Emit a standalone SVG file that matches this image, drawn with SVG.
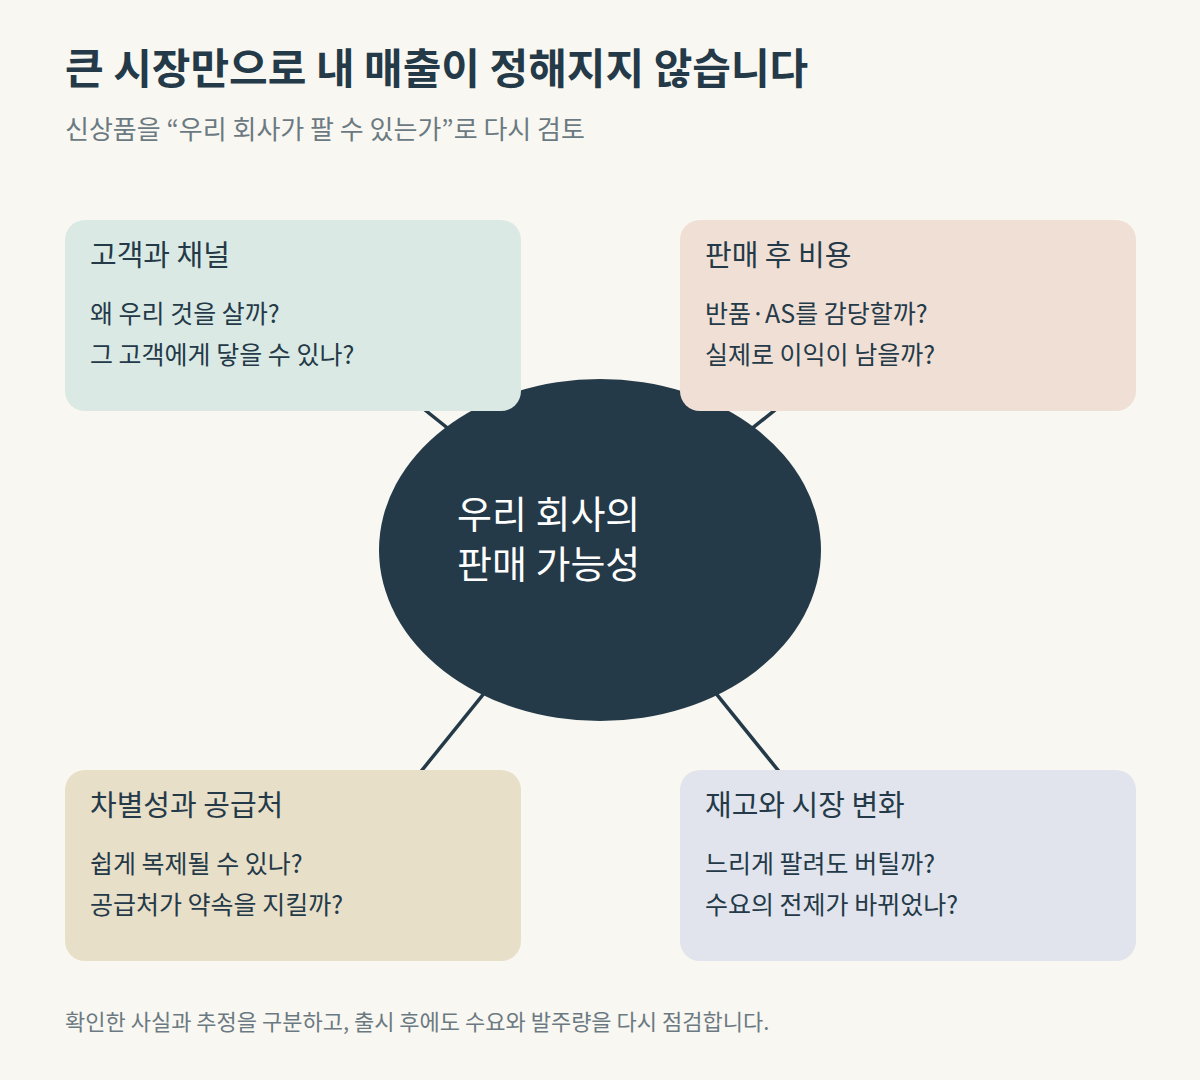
<svg xmlns="http://www.w3.org/2000/svg" width="1200" height="1080" viewBox="0 0 1200 1080">
<style>
text{font-family:"Noto Sans CJK KR","Noto Sans",sans-serif;fill:#243a48}
.h{font-size:29px}
.b{font-size:25px}
.c{stroke:#243a48;stroke-width:3.5}
</style>
<rect width="1200" height="1080" fill="#f9f7f1"/>
<text x="65" y="84" style="font-size:42px;font-weight:700">큰 시장만으로 내 매출이 정해지지 않습니다</text>
<text x="65" y="139" style="font-size:26px;fill:#6b7a82">신상품을 “우리 회사가 팔 수 있는가”로 다시 검토</text>
<g id="connectors">
<line class="c" x1="400" y1="390" x2="600" y2="550"/>
<line class="c" x1="800" y1="390" x2="600" y2="550"/>
<line class="c" x1="410" y1="785" x2="600" y2="550"/>
<line class="c" x1="790" y1="785" x2="600" y2="550"/>
</g>
<g id="center"><ellipse cx="600" cy="550" rx="221" ry="171" fill="#243a48"/>
<text x="457" y="528" style="font-size:38px;fill:#fff">우리 회사의</text>
<text x="457" y="578" style="font-size:38px;fill:#fff">판매 가능성</text></g>
<g id="n1"><rect x="65" y="220" width="456" height="191" rx="20" fill="#dbe9e4"/>
<text class="h" x="90" y="266">고객과 채널</text>
<text class="b" x="90" y="323">왜 우리 것을 살까?</text>
<text class="b" x="90" y="364">그 고객에게 닿을 수 있나?</text></g>
<g id="n2"><rect x="680" y="220" width="456" height="191" rx="20" fill="#f0dfd5"/>
<text class="h" x="705" y="266">판매 후 비용</text>
<text class="b" x="705" y="323">반품·AS를 감당할까?</text>
<text class="b" x="705" y="364">실제로 이익이 남을까?</text></g>
<g id="n3"><rect x="65" y="770" width="456" height="191" rx="20" fill="#e8dfc9"/>
<text class="h" x="90" y="816">차별성과 공급처</text>
<text class="b" x="90" y="873">쉽게 복제될 수 있나?</text>
<text class="b" x="90" y="914">공급처가 약속을 지킬까?</text></g>
<g id="n4"><rect x="680" y="770" width="456" height="191" rx="20" fill="#e1e4ec"/>
<text class="h" x="705" y="816">재고와 시장 변화</text>
<text class="b" x="705" y="873">느리게 팔려도 버틸까?</text>
<text class="b" x="705" y="914">수요의 전제가 바뀌었나?</text></g>
<text x="65" y="1030" style="font-size:22px;fill:#6b7a82">확인한 사실과 추정을 구분하고, 출시 후에도 수요와 발주량을 다시 점검합니다.</text>
</svg>
